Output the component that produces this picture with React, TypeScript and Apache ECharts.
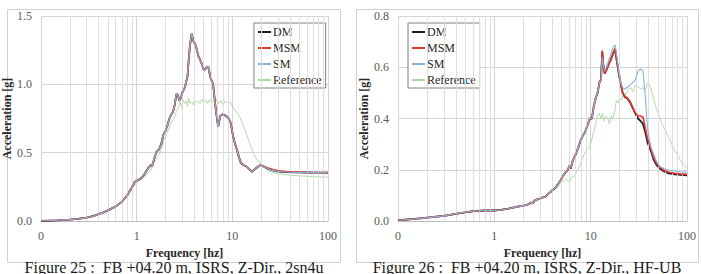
import React, { useEffect, useRef } from 'react';
import * as echarts from 'echarts';

const legendNames = ['DM', 'MSM', 'SM', 'Reference'];
const captions = ['Figure 25 :  FB +04.20 m, ISRS, Z-Dir., 2sn4u', 'Figure 26 :  FB +04.20 m, ISRS, Z-Dir., HF-UB'];
const yMax = [1.5, 0.8];
const yStep = [0.5, 0.2];
const minorFreqs = [0.2, 0.3, 0.4, 0.5, 0.6, 0.7, 0.8, 0.9, 2, 3, 4, 5, 6, 7, 8, 9, 20, 30, 40, 50, 60, 70, 80, 90];

// ---- Figure 25 ----
const freq1 = [0.1, 0.15, 0.2, 0.25, 0.3, 0.35, 0.4, 0.45, 0.5, 0.6, 0.7, 0.8, 0.9, 0.95, 1.0, 1.1, 1.2, 1.3, 1.4, 1.45, 1.55, 1.62, 1.7, 1.8, 1.9, 2.0, 2.1, 2.2, 2.3, 2.4, 2.5, 2.6, 2.7, 2.8, 2.9, 3.0, 3.2, 3.4, 3.5, 3.6, 3.75, 3.85, 3.95, 4.05, 4.2, 4.4, 4.6, 4.8, 5.0, 5.1, 5.3, 5.6, 5.9, 6.3, 6.7, 7.1, 7.5, 8.0, 9.0, 9.6, 10.2, 10.6, 11.2, 12.0, 12.4, 13.0, 14.0, 15.0, 16.0, 17.0, 18.0, 19.5, 21, 23, 26, 30, 37, 45, 60, 80, 100];
const dm1 = [0.0, 0.005, 0.01, 0.017, 0.025, 0.035, 0.05, 0.063, 0.078, 0.105, 0.14, 0.19, 0.25, 0.285, 0.295, 0.31, 0.34, 0.38, 0.41, 0.40, 0.47, 0.51, 0.52, 0.56, 0.63, 0.66, 0.70, 0.75, 0.78, 0.80, 0.85, 0.93, 0.92, 0.88, 0.90, 0.94, 0.98, 1.06, 1.18, 1.28, 1.37, 1.34, 1.31, 1.30, 1.27, 1.21, 1.18, 1.15, 1.11, 1.10, 1.12, 1.13, 1.05, 1.00, 0.82, 0.69, 0.77, 0.78, 0.76, 0.72, 0.62, 0.57, 0.52, 0.44, 0.42, 0.41, 0.40, 0.38, 0.36, 0.375, 0.39, 0.41, 0.40, 0.385, 0.372, 0.362, 0.358, 0.356, 0.355, 0.354, 0.353];
const msm1 = [0.0, 0.005, 0.01, 0.017, 0.025, 0.035, 0.05, 0.063, 0.078, 0.105, 0.14, 0.19, 0.25, 0.285, 0.295, 0.31, 0.34, 0.38, 0.41, 0.40, 0.47, 0.51, 0.52, 0.56, 0.63, 0.66, 0.70, 0.75, 0.78, 0.80, 0.85, 0.93, 0.92, 0.88, 0.90, 0.94, 0.98, 1.06, 1.18, 1.28, 1.37, 1.34, 1.31, 1.30, 1.27, 1.21, 1.18, 1.15, 1.11, 1.10, 1.12, 1.13, 1.05, 1.00, 0.82, 0.69, 0.77, 0.78, 0.76, 0.72, 0.62, 0.57, 0.52, 0.45, 0.425, 0.41, 0.40, 0.38, 0.362, 0.378, 0.392, 0.41, 0.402, 0.39, 0.378, 0.368, 0.362, 0.358, 0.356, 0.355, 0.354];
const sm1 = [0.0, 0.005, 0.01, 0.017, 0.025, 0.035, 0.05, 0.063, 0.078, 0.105, 0.14, 0.19, 0.25, 0.285, 0.295, 0.31, 0.34, 0.38, 0.41, 0.40, 0.47, 0.51, 0.52, 0.56, 0.63, 0.66, 0.70, 0.75, 0.78, 0.80, 0.85, 0.93, 0.92, 0.88, 0.90, 0.94, 0.98, 1.06, 1.18, 1.28, 1.37, 1.34, 1.31, 1.30, 1.27, 1.21, 1.18, 1.15, 1.11, 1.10, 1.12, 1.13, 1.05, 1.00, 0.82, 0.69, 0.77, 0.78, 0.76, 0.72, 0.62, 0.57, 0.52, 0.44, 0.42, 0.41, 0.40, 0.38, 0.36, 0.375, 0.39, 0.41, 0.40, 0.385, 0.372, 0.362, 0.358, 0.356, 0.355, 0.354, 0.353];
const freqR1 = [0.1, 0.2, 0.3, 0.4, 0.5, 0.6, 0.7, 0.8, 0.9, 1.0, 1.1, 1.2, 1.3, 1.4, 1.5, 1.6, 1.7, 1.8, 1.9, 2.0, 2.15, 2.3, 2.45, 2.6, 2.75, 2.85, 2.95, 3.05, 3.15, 3.3, 3.4, 3.5, 3.6, 3.75, 3.9, 4.0, 4.2, 4.4, 4.6, 4.8, 5.0, 5.3, 5.5, 5.8, 6.0, 6.3, 6.6, 6.9, 7.2, 7.6, 8.0, 8.5, 9.0, 9.5, 10, 11, 12, 13, 14, 15, 16.5, 18, 20, 22, 25, 30, 40, 50, 70, 100];
const ref1 = [0.0, 0.01, 0.025, 0.048, 0.075, 0.10, 0.135, 0.185, 0.24, 0.28, 0.30, 0.32, 0.35, 0.37, 0.43, 0.45, 0.48, 0.52, 0.58, 0.62, 0.67, 0.72, 0.75, 0.80, 0.84, 0.87, 0.83, 0.89, 0.86, 0.88, 0.84, 0.90, 0.86, 0.87, 0.85, 0.88, 0.87, 0.88, 0.86, 0.89, 0.87, 0.88, 0.86, 0.89, 0.87, 0.88, 0.86, 0.89, 0.86, 0.88, 0.85, 0.88, 0.86, 0.87, 0.84, 0.80, 0.76, 0.70, 0.64, 0.58, 0.50, 0.45, 0.42, 0.39, 0.36, 0.345, 0.335, 0.33, 0.325, 0.32];

// ---- Figure 26 ----
const freq2 = [0.1, 0.15, 0.2, 0.3, 0.4, 0.5, 0.6, 0.7, 0.8, 0.9, 1.0, 1.2, 1.4, 1.6, 1.8, 2.0, 2.2, 2.4, 2.5, 2.6, 2.8, 3.0, 3.2, 3.4, 3.6, 3.8, 4.0, 4.3, 4.6, 4.9, 5.2, 5.5, 5.8, 6.0, 6.2, 6.5, 7.0, 7.4, 7.8, 8.2, 8.7, 9.2, 9.8, 10.3, 10.8, 11.3, 11.8, 12.4, 12.8, 13.2, 13.6, 14.0, 14.6, 15.3, 16, 17, 17.9, 18.6, 19.5, 20.5, 21.5, 22.5, 24, 25.5, 27, 29, 31, 33, 35, 37, 39, 41, 43, 45, 48, 52, 58, 65, 75, 85, 100];
const dm2 = [0.003, 0.008, 0.013, 0.02, 0.028, 0.034, 0.038, 0.040, 0.041, 0.041, 0.041, 0.044, 0.048, 0.053, 0.057, 0.060, 0.063, 0.072, 0.068, 0.080, 0.085, 0.088, 0.092, 0.095, 0.105, 0.112, 0.12, 0.13, 0.145, 0.16, 0.178, 0.19, 0.20, 0.215, 0.205, 0.235, 0.26, 0.285, 0.31, 0.33, 0.345, 0.37, 0.40, 0.40, 0.45, 0.48, 0.50, 0.545, 0.55, 0.66, 0.60, 0.575, 0.59, 0.61, 0.625, 0.65, 0.672, 0.63, 0.58, 0.535, 0.50, 0.485, 0.478, 0.465, 0.445, 0.42, 0.40, 0.39, 0.378, 0.345, 0.305, 0.285, 0.265, 0.24, 0.22, 0.205, 0.193, 0.186, 0.182, 0.18, 0.178];
const msm2 = [0.003, 0.008, 0.013, 0.02, 0.028, 0.034, 0.038, 0.040, 0.041, 0.041, 0.041, 0.044, 0.048, 0.053, 0.057, 0.060, 0.063, 0.072, 0.068, 0.080, 0.085, 0.088, 0.092, 0.095, 0.105, 0.112, 0.12, 0.13, 0.145, 0.16, 0.178, 0.19, 0.20, 0.215, 0.205, 0.235, 0.26, 0.285, 0.31, 0.33, 0.345, 0.37, 0.40, 0.40, 0.45, 0.48, 0.50, 0.545, 0.55, 0.665, 0.60, 0.575, 0.59, 0.61, 0.625, 0.65, 0.674, 0.63, 0.58, 0.535, 0.50, 0.487, 0.48, 0.467, 0.447, 0.422, 0.41, 0.41, 0.405, 0.36, 0.32, 0.295, 0.272, 0.248, 0.226, 0.21, 0.197, 0.19, 0.186, 0.184, 0.182];
const sm2 = [0.003, 0.008, 0.013, 0.02, 0.028, 0.034, 0.038, 0.040, 0.041, 0.041, 0.041, 0.044, 0.048, 0.053, 0.057, 0.060, 0.063, 0.072, 0.068, 0.080, 0.085, 0.088, 0.092, 0.095, 0.105, 0.112, 0.12, 0.13, 0.145, 0.16, 0.178, 0.19, 0.20, 0.215, 0.21, 0.235, 0.26, 0.285, 0.31, 0.33, 0.345, 0.37, 0.40, 0.40, 0.45, 0.48, 0.50, 0.545, 0.55, 0.64, 0.60, 0.585, 0.60, 0.625, 0.645, 0.675, 0.687, 0.65, 0.59, 0.54, 0.52, 0.515, 0.522, 0.53, 0.538, 0.55, 0.585, 0.593, 0.585, 0.48, 0.36, 0.31, 0.28, 0.262, 0.235, 0.214, 0.204, 0.198, 0.195, 0.192, 0.19];
const freqR2 = [0.1, 0.2, 0.3, 0.5, 0.7, 1.0, 1.5, 2.0, 2.5, 3.0, 3.5, 4.0, 4.5, 5.0, 5.5, 6.0, 6.3, 6.8, 7.3, 7.8, 8.3, 8.8, 9.3, 9.8, 10.3, 10.8, 11.3, 11.8, 12.3, 12.8, 13.3, 13.8, 14.3, 15, 15.7, 16.3, 17, 17.8, 18.5, 19.3, 20, 21, 22, 23, 24.5, 26, 27.5, 29, 31, 33, 35, 37, 39, 40.5, 42, 44, 47, 50, 55, 60, 66, 73, 80, 88, 95, 100];
const ref2 = [0.003, 0.013, 0.02, 0.034, 0.039, 0.040, 0.05, 0.058, 0.068, 0.085, 0.10, 0.115, 0.13, 0.15, 0.165, 0.15, 0.17, 0.175, 0.20, 0.22, 0.25, 0.27, 0.28, 0.29, 0.32, 0.35, 0.38, 0.41, 0.42, 0.40, 0.42, 0.39, 0.41, 0.40, 0.38, 0.41, 0.40, 0.43, 0.47, 0.46, 0.48, 0.47, 0.50, 0.49, 0.515, 0.52, 0.505, 0.53, 0.525, 0.515, 0.52, 0.51, 0.54, 0.535, 0.52, 0.49, 0.45, 0.42, 0.38, 0.35, 0.32, 0.28, 0.255, 0.23, 0.215, 0.205];

const charts = [
  { freq: freq1, dm: dm1, msm: msm1, sm: sm1, freqR: freqR1, ref: ref1 },
  { freq: freq2, dm: dm2, msm: msm2, sm: sm2, freqR: freqR2, ref: ref2 },
];

const SERIF = 'Liberation Serif';
const COLORS = { DM: '#1c1c24', MSM: '#e2382c', SM: '#86b4e0', Reference: '#a9d8a4' };

const gridBoxes = [
  { left: 41, top: 16, width: 287, height: 205 },
  { left: 398, top: 16, width: 289, height: 205 },
];
const legendPos = [{ left: 254, top: 23 }, { left: 408, top: 23 }];
const frames = [
  { x: 7.5, y: 9.5, width: 333, height: 253 },
  { x: 356.5, y: 9.5, width: 342, height: 253 },
];
const captionX = [174, 527];

function pairs(f: number[], v: number[]) {
  return f.map((x, i) => [x, v[i]]);
}

export default function App() {
  const ref = useRef<HTMLDivElement>(null);
  useEffect(() => {
    if (!ref.current) return;
    const chart = echarts.init(ref.current, null, { renderer: 'svg' });
    const series: any[] = [];
    charts.forEach((c, g) => {
      series.push({
        type: 'line', name: 'minor' + g, xAxisIndex: g, yAxisIndex: g, data: [], z: 1, silent: true,
        markLine: {
          silent: true, symbol: ['none', 'none'], label: { show: false }, animation: false,
          lineStyle: { color: '#dedede', width: 1, type: 'solid' },
          data: minorFreqs.map((f) => ({ xAxis: f })),
        },
      });
      series.push({ type: 'line', name: 'Reference', xAxisIndex: g, yAxisIndex: g, data: pairs(c.freqR, c.ref), symbol: 'none', lineStyle: { width: 0.9, color: COLORS.Reference }, itemStyle: { color: COLORS.Reference }, z: 3 });
      series.push({ type: 'line', name: 'DM', xAxisIndex: g, yAxisIndex: g, data: pairs(c.freq, c.dm), symbol: 'none', lineStyle: { width: 1.8, color: COLORS.DM }, itemStyle: { color: COLORS.DM }, z: 4 });
      series.push({ type: 'line', name: 'MSM', xAxisIndex: g, yAxisIndex: g, data: pairs(c.freq, c.msm), symbol: 'none', lineStyle: { width: 1.6, color: COLORS.MSM }, itemStyle: { color: COLORS.MSM }, z: 5 });
      series.push({ type: 'line', name: 'SM', xAxisIndex: g, yAxisIndex: g, data: pairs(c.freq, c.sm), symbol: 'none', lineStyle: { width: 1.1, color: COLORS.SM }, itemStyle: { color: COLORS.SM }, z: 6 });
    });

    const option: any = {
      animation: false,
      backgroundColor: '#ffffff',
      textStyle: { fontFamily: SERIF },
      grid: gridBoxes.map((b) => ({ ...b, containLabel: false })),
      xAxis: gridBoxes.map((_, g) => ({
        type: 'log', logBase: 10, min: 0.1, max: 100, gridIndex: g,
        name: 'Frequency [hz]', nameLocation: 'middle', nameGap: 23,
        nameTextStyle: { fontFamily: SERIF, fontWeight: 'bold', fontSize: 12, color: '#262626', lineHeight: 12 },
        axisLine: { show: true, lineStyle: { color: '#bfbfbf', width: 1 } },
        axisTick: { show: false },
        axisLabel: {
          fontFamily: SERIF, fontSize: 12, color: '#595959', margin: 9,
          formatter: (v: number) => (v < 1 ? '0' : String(Math.round(v))),
        },
        splitLine: { show: true, lineStyle: { color: '#d4d4d4', width: 1 } },
      })),
      yAxis: gridBoxes.map((_, g) => ({
        type: 'value', min: 0, max: yMax[g], interval: yStep[g], gridIndex: g,
        name: 'Acceleration [g]', nameLocation: 'middle', nameGap: 24,
        nameTextStyle: { fontFamily: SERIF, fontWeight: 'bold', fontSize: 12, color: '#262626' },
        axisLine: { show: false }, axisTick: { show: false },
        axisLabel: { fontFamily: SERIF, fontSize: 12, color: '#595959', margin: 9, formatter: (v: number) => v.toFixed(1) },
        splitLine: { show: true, lineStyle: { color: '#d4d4d4', width: 1 } },
      })),
      legend: legendPos.map((p) => ({
        ...p, orient: 'vertical', data: legendNames, selectedMode: false,
        itemWidth: 13, itemHeight: 8, itemGap: 0,
        padding: [1, 4, 0, 3],
        itemStyle: { opacity: 0 },
        borderColor: '#7f7f7f', borderWidth: 1, backgroundColor: '#ffffff',
        textStyle: { fontFamily: SERIF, fontSize: 12, color: '#262626', lineHeight: 16, padding: [0, 0, 0, -3] },
      })),
      graphic: [
        ...frames.map((f) => ({ type: 'rect', shape: f, style: { fill: 'none', stroke: '#cfcfcf', lineWidth: 1 }, silent: true, z: 0 })),
        ...captions.map((t, i) => ({
          type: 'text', x: captionX[i], y: 267, silent: true,
          style: { text: t, fontFamily: SERIF, fontSize: 16, lineHeight: 15, fill: '#1a1a1a', textAlign: 'center', textVerticalAlign: 'middle' },
        })),
      ],
      series,
    };
    chart.setOption(option);
    return () => chart.dispose();
  }, []);
  return <div ref={ref} style={{ position: 'fixed', left: 0, top: 0, width: 701, height: 274 }} />;
}
